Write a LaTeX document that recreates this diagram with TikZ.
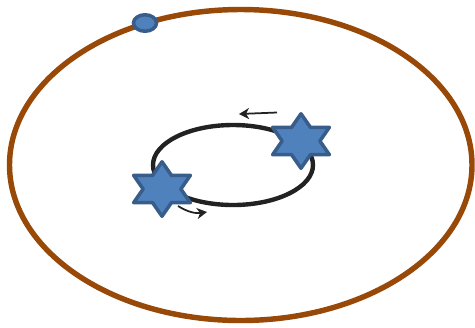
\documentclass[tikz,border=0pt]{standalone}
\usepackage{xcolor}
\usepackage{tikz}
\usetikzlibrary{arrows.meta,shapes.geometric}
\definecolor{orbitbrown}{HTML}{984807}
\definecolor{starblue}{HTML}{4F81BD}
\definecolor{starrim}{HTML}{385D8A}
\definecolor{pathblack}{HTML}{222222}

\begin{document}
\begin{tikzpicture}[
  sixstar/.style={star,star points=6,star point ratio=1.732,minimum size=1.09cm,inner sep=0pt,
    xscale=1.2,draw=starrim,fill=starblue,line width=2pt,line join=round},
  planet/.style={ellipse,minimum width=0.46cm,minimum height=0.33cm,inner sep=0pt,
    draw=starrim,fill=starblue,line width=2pt},
  spin/.style={-{Stealth[length=0.2cm,width=0.22cm,inset=0.06cm]},pathblack,line width=1pt},
]
\useasboundingbox (0,0) rectangle (9.5,-6.54);
% outer orbit and inner binary orbit
\draw[orbitbrown,line width=3.1pt] (4.815,-3.30) ellipse [x radius=4.625,y radius=3.11];
\draw[pathblack,line width=2.5pt] (4.66,-3.30) ellipse [x radius=1.6,y radius=0.8];
\node[planet] (planet) at (2.9,-0.46) {};
\node[sixstar] (starA) at (6.02,-2.82) {};
\node[sixstar] (starB) at (3.24,-3.78) {};
% direction of motion
\coordinate (topstart) at (5.54,-2.25);
\coordinate (topend) at (4.78,-2.28);
\coordinate (botstart) at (3.56,-4.12);
\coordinate (botend) at (4.14,-4.24);
\draw[spin] (topstart) -- (topend);
\draw[spin] (botstart) to[bend right=20] (botend);
\end{tikzpicture}
\end{document}
